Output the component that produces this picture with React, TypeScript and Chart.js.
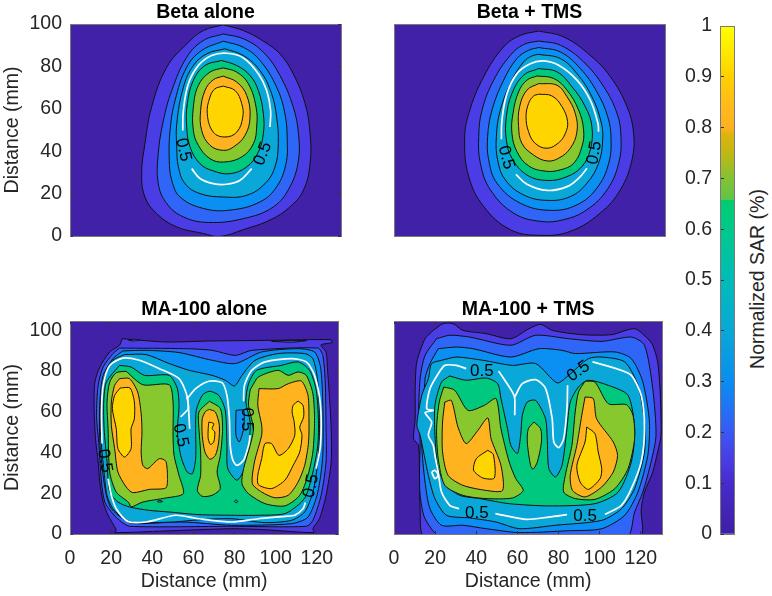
import React, { useEffect, useRef } from "react";
import { Chart, registerables } from "chart.js";

Chart.register(...registerables);

type Pt = [number, number];
type Ring = { level: number; points: Pt[] };
type Label = { x: number; y: number; angle: number };

const levelColors = ["#4021A8", "#4A3DE6", "#2F66F8", "#0A90F2", "#0AA8D8", "#00C97F", "#88C82F", "#FFB31F", "#FFD500"];

// ---- Beta alone
const betaAlone1: Pt[] = [[73.8,99.6],[83.5,96.9],[93.1,91.9],[101.1,85.9],[107.5,76.5],[113.2,62.4],[115.6,48.3],[115.6,34],[112.4,21.6],[105.9,13.7],[96.3,7.5],[83.5,3],[72.2,-0.2],[64.2,1.2],[51.4,4.3],[41.7,10.6],[36.1,18.4],[34.5,29.4],[36.1,43.5],[39.3,60.8],[46.6,79.6],[56.2,90.6],[64.2,96.9]];
const betaAlone2: Pt[] = [[73.8,95.3],[83.5,93],[93.1,86.7],[101.1,75.7],[107.5,60.8],[110,48.3],[110,35.7],[105.9,23.2],[97.9,13.7],[83.5,8.2],[66.6,6.4],[54.6,9],[46.6,15.3],[42.5,24.7],[42.5,38.8],[45,54.5],[49,68.6],[56.2,84.3],[64.2,92.2]];
const betaAlone3: Pt[] = [[73.8,91.9],[83.5,89],[91.5,82.8],[99.5,70.2],[103.5,57.7],[104.6,45.1],[104,34.1],[99.5,23.2],[91.5,16.1],[77,12.2],[64.2,13],[53,18.4],[49,26.3],[47.8,35.7],[48.2,49.8],[50.6,63.9],[56.2,79.6],[63.4,87.5]];
const betaAlone4: Pt[] = [[74.6,88.3],[83.5,85.1],[91.5,78],[97.1,67.1],[99.5,56.1],[100.3,43.5],[98.7,32.6],[93.9,24.7],[85.1,19.2],[73.8,18.4],[62.6,20],[55.4,24.7],[52.2,32.6],[51.4,42],[51.4,52.9],[54.6,70.2],[59.4,80.4],[65.8,85.9]];
const betaAlone6: Pt[] = [[73,82.8],[80.3,80.4],[86.7,75.7],[90.7,68.6],[93.1,57.7],[93.1,48.3],[90.7,39.6],[85.1,32.6],[77,29.4],[69,30.7],[62.6,34.1],[57.8,42],[56.2,51.4],[56.5,62.4],[59.4,73.4],[65,80.4]];
const betaAlone7: Pt[] = [[73.8,79.3],[80.3,77.3],[85.9,71.8],[89.6,60.8],[89.9,51.4],[88.3,43.5],[82.7,37.3],[73.8,34.9],[67.4,36.5],[61.8,42.8],[59.4,49.8],[59.4,60.8],[61.8,71],[67.4,77.3]];
const betaAlone8: Pt[] = [[73.8,75.4],[80.3,72.6],[85.1,66.3],[86.7,56.1],[84.3,47.5],[78.7,42],[73.8,40.4],[67.4,42.8],[63.4,49.8],[62.9,59.2],[65,68.6],[69,73.7]];
const betaAlone9: Pt[] = [[73.8,70.7],[79.5,68.6],[82.7,62.4],[83.2,56.1],[80.3,49],[74.6,46.7],[69,49],[66.1,57.7],[67.4,65.5],[69.8,69.4]];
const betaAloneWhite: Pt[][] = [
  [[54.3,49.8],[54.6,59.2],[57,71.8],[61.8,80.4],[68.2,85.1],[75.4,86.2],[83.5,84],[90.7,76.5],[94.7,68.6],[96.6,59.2],[96.3,51.4]],
  [[58.6,31.8],[62.6,27.1],[69,24.7],[75.4,24.4],[81.9,26.3],[87.5,31.8]],
];
const betaAloneLabels: Label[] = [{ x: 54.6, y: 40.7, angle: 78 }, { x: 92.8, y: 38.8, angle: -68 }];

// ---- Beta + TMS
const betaTms1: Pt[] = [[69.7,96.7],[81.7,93.9],[94.5,85.2],[104.2,75.1],[112.2,61],[115.4,48.4],[114.6,35.9],[109,21.8],[99.3,10.8],[84.9,2.2],[70.5,0.3],[56,3],[43.2,13.9],[36,28],[34,45.3],[36,57.8],[43.2,75.1],[52.8,89.2],[60.8,94.6]];
const betaTms2: Pt[] = [[69.7,92],[80.1,90],[91.3,82.1],[101,70.4],[107.4,57.8],[109.3,46.9],[108.2,34.3],[102.6,21.8],[92.9,12.4],[81.7,7.7],[70.5,6.9],[57.6,10.8],[46.4,21.8],[41.6,34.3],[40.8,46.9],[42.4,59.4],[48,73.5],[56,85.2],[62.4,90.3]];
const betaTms3: Pt[] = [[69.7,88.9],[80.1,86.8],[89.7,79],[97.7,68],[102.9,56.3],[104.5,46.1],[103.4,34.3],[97.7,22.6],[88.1,14.7],[75.3,12.1],[60.8,15.5],[49.6,24.9],[45.6,35.9],[45.1,46.9],[47.2,59.4],[52.8,73.5],[59.2,83.7],[64.8,87.6]];
const betaTms4: Pt[] = [[69.7,85.7],[80.1,83.7],[88.1,76.6],[95.3,65.7],[99.7,53.9],[100.5,45.3],[98.5,34.3],[92.9,24.9],[84.9,18.6],[73.7,16.8],[62.4,19.4],[53.6,26.5],[49.9,35.9],[49.3,46.9],[51.2,59.4],[56.8,73.5],[62.4,82.1],[66.4,84.9]];
const betaTms6: Pt[] = [[69.7,79],[78.5,77.4],[85.7,70.4],[92.1,61],[95.3,51.6],[94.5,40.6],[90.5,32.8],[83.3,28],[73.7,26.2],[64,28.8],[56.8,36.7],[54.1,45.3],[54.1,56.3],[56.8,67.2],[62.4,75.8]];
const betaTms7: Pt[] = [[68.9,75.5],[76.9,74.3],[83.3,68.8],[88.9,59.4],[91.3,50],[90.5,42.2],[86.5,34.3],[80.1,31.2],[72.9,30.6],[64.8,33.1],[59.2,39.8],[56.8,48.4],[57.3,57.8],[60,68],[64,73.5]];
const betaTms8: Pt[] = [[69.7,71.9],[78.5,71.1],[83.3,65.7],[87.3,57.8],[88.1,49.2],[84.9,41.4],[79.3,36.7],[73.7,35.4],[67.2,38.2],[61.6,43.7],[60,51.6],[60.5,61],[64,68.8]];
const betaTms9: Pt[] = [[69.7,66.9],[76,66.1],[80.9,61],[83.6,53.9],[82.5,48.4],[79.3,44],[73.7,41.4],[68,43.7],[64.8,49.2],[63.6,56.3],[64.8,62.5],[67.2,66]];
const betaTmsWhite: Pt[][] = [
  [[51.7,45.6],[52,54.7],[54.4,67.2],[59.2,76.6],[65.6,81.3],[72,82.6],[79.3,80.5],[88.1,73.5],[94.5,64.1],[98.2,53.1],[98.5,49.2]],
  [[58.7,29.1],[64,24.4],[73.7,21.5],[83.3,23.3],[89.7,28],[92.9,32]],
];
const betaTmsLabels: Label[] = [{ x: 54, y: 37, angle: 75 }, { x: 96.5, y: 39.3, angle: -80 }];

// ---- MA-100 alone
const maAlone1: Pt[] = [[25.4,95.9],[46.6,94.3],[69.1,94.8],[98,95.1],[127,95.4],[127.4,94],[122,92.8],[124.5,89.4],[125.3,79.6],[126.1,68.1],[127,51.7],[127,35.4],[124.5,19],[121.3,7.5],[118.1,2.6],[118.6,0.7],[94.8,2.1],[78.7,2.6],[46.6,1.5],[21.7,0.7],[22.5,2],[18.5,9.2],[16.1,15.7],[14.5,25.5],[13.7,35.4],[12.4,46.8],[11.7,63.2],[12.1,74.6],[14.5,82],[19.3,89.4],[24.1,92.7]];
const maAlone2: Pt[] = [[24.1,91.3],[56.2,91],[69.1,90.2],[80.4,87.7],[88.4,90.2],[120.5,91.3],[122.9,87.7],[124.1,74.6],[124.5,51.7],[124.5,35.4],[122.1,19],[118.1,6.7],[114.9,3.8],[78.7,3.8],[28.9,3.8],[24.1,6.7],[20.1,10.8],[16.9,15.7],[15.3,25.5],[14.1,43.5],[12.9,58.3],[13.7,73],[16.1,82],[20.9,88.6]];
const maAlone3: Pt[] = [[25.7,89.9],[37,90.2],[53,89.1],[69.1,85.3],[80.4,83.7],[93.2,89.4],[110.9,91],[118.9,89.4],[121.8,82],[122.9,64.8],[122.9,38.6],[120.5,20.6],[115.7,8.3],[107.7,5.1],[78.7,4.3],[54.6,5.9],[30.5,5.1],[25.7,7.5],[20.1,12.4],[17.7,19],[16.1,28.8],[14.5,45.2],[14.5,64.8],[16.1,77.9],[20.9,86.1]];
const maAlone4: Pt[] = [[26.5,88.1],[37,88.1],[48.2,83.7],[57.9,80.4],[69.1,77.9],[75.5,75.5],[80,72.7],[83.6,77.9],[90,85.3],[101.2,88.6],[114.1,88.6],[118.1,86.1],[120.5,74.6],[121.3,51.7],[120.5,35.4],[118.1,20.6],[114.1,10.8],[107.7,6.7],[94.8,5.6],[78.7,7.5],[65.9,7.2],[49.8,5.9],[32.1,5.6],[26.5,7.2],[20.9,12.4],[18,19],[16.4,32.1],[14.9,48.5],[14.9,64.8],[16.9,77.9],[20.9,85.3]];
const maAloneIsland: Pt[] = [[80.7,60.7],[84.4,60.7],[84.4,51.7],[82.3,45.2],[80.7,48.5]];
const maAloneLens1: Pt[] = [[28.5,95.2],[31,95.6],[34,95.2],[31,94.8]];
const maAloneLens2: Pt[] = [[98,94.6],[104,95],[115,95],[108,94.2]];
const maAlone6: Pt[] = [[24.1,82.8],[29.7,82],[36.2,77.9],[48.2,77.9],[52.2,71.4],[53,62.4],[52.2,50.9],[53.8,38.6],[57,30.4],[59.5,29.6],[61.1,37],[61.1,51.7],[61.4,60.7],[64.3,68.1],[67.8,70.1],[72.3,68.1],[75.5,60.7],[76.3,43.5],[76.7,32.1],[81.2,26.4],[84.8,32.1],[87.1,45.2],[87.6,55],[85.5,64.8],[86.8,73.8],[90.8,80.4],[102.8,82.8],[110.9,84.5],[116.5,80.4],[119.7,70.6],[120.8,55.8],[120.5,43.5],[118.1,30.4],[114.9,19],[111.7,14.9],[104.5,10],[91.6,9.2],[78.7,9.2],[62.7,9.5],[48.2,10.8],[38.6,11.6],[28.9,13.3],[23.3,15.7],[19.3,20.6],[18,35.4],[16.6,51.7],[16.4,64.8],[17.7,74.6]];
const maAlone7Left: Pt[] = [[27.3,79.9],[35.4,73.3],[48.2,73.3],[50.1,64.8],[50.1,48.5],[50.6,38.6],[53,28.8],[55.1,19.8],[46.6,17.7],[35.4,15.7],[29.7,13.3],[28.6,15.4],[22.5,20.6],[19.3,30.4],[18.5,51.7],[18,64.8],[19.3,74.6],[22.5,79.2]];
const maAlone7Mid: Pt[] = [[67.8,65.2],[73.1,61.6],[74.2,51.7],[73.1,38.6],[71.5,30.4],[73.1,22.3],[69.1,19],[64.3,18.5],[61.9,21.4],[63.5,28.8],[63.5,40.3],[62.7,51.7],[62.7,59.9]];
const maAlone7Right: Pt[] = [[88.4,72.2],[91.6,77.1],[101.2,80.4],[106.1,77.9],[110.9,79.6],[114.9,77.9],[118.1,68.9],[118.9,55.8],[118.1,40.3],[115.7,28.8],[111.7,19],[104.5,13.8],[94.8,14.9],[86.8,19.8],[83.6,24.7],[84.4,32.1],[87.6,43.5],[89.2,51.7],[86.8,63.2],[87.6,70.6]];
const maAlone8Left: Pt[] = [[24.1,76.3],[28.9,76.3],[32.9,69.7],[34.6,59.1],[35,50.1],[34.6,40.3],[35.4,33.7],[37.8,32.1],[43.4,37],[46.6,35.7],[47.4,27.2],[46.6,22.6],[38.6,21.9],[30.5,20.3],[27.3,23.1],[23.3,30.4],[21.7,41.9],[20.1,53.4],[20.1,64.8],[21.7,73]];
const maAlone8Mid: Pt[] = [[67.8,61.2],[70.7,59.9],[72.6,53.4],[72.3,45.2],[70.7,38.6],[68,36.7],[65.6,40.3],[64.3,48.5],[64.3,56.6],[65.9,60.2]];
const maAlone8Right: Pt[] = [[91.9,71.4],[101.2,71.4],[106.1,73.8],[112.5,75.1],[115.7,68.1],[116.2,56.6],[116,45.2],[114.1,33.7],[110.9,25.5],[106.1,19],[99.6,17.8],[93.2,20.6],[88.7,24.7],[89.7,35.4],[93.2,48.5],[93.2,53.4],[91.3,63.2]];
const maAlone9Left: Pt[] = [[24.4,71.7],[29.2,71.7],[31.3,64.8],[31.3,56.6],[29.7,51.7],[29.7,41.9],[26.5,37.8],[23.3,41.9],[22.5,51.7],[20.6,61.6],[21.7,68.1]];
const maAlone9Mid: Pt[] = [[67.5,55],[69.9,54.2],[69.1,51.7],[70.4,50.1],[69.9,45.2],[68.3,44],[67.2,46.8],[67.2,51.7]];
const maAlone9Right: Pt[] = [[110.9,65.3],[113.3,63.2],[113.6,57.5],[111.7,52.5],[112.8,48.5],[111.7,40.3],[108.5,33.7],[104.5,26.4],[98,22.3],[91.6,24.2],[91.3,28.8],[93.2,37],[94.8,44.4],[98,44.4],[101.6,38.6],[106.1,41.9],[109.3,48.5],[109,55],[108,59.9],[108.5,63.2]];
const maAloneDots: Pt[][] = [
  [[42.4,16],[43.4,16.5],[45,16],[43.4,15.6]],
  [[80,16],[80.7,16.8],[81.6,16],[80.7,15.3]],
];
const maAloneWhite: Pt[][] = [
  [[15.6,44.4],[15.3,59.9],[16.1,73],[19.3,82.8],[25.7,86.4],[33.7,85.3],[43.4,81.2],[53,76.3],[57,67.3],[58.2,51.7]],
  [[57,67.3],[57.5,61.6],[53.8,57.5]],
  [[57,66.5],[61.1,71.4],[67.5,75],[73.9,74.3],[76.3,68.1],[77.5,56.6],[77.9,43.5],[79.2,36.2],[81.2,33.7],[84.4,36.2],[86.8,43.5],[87.6,48.5]],
  [[84.4,65.2],[84.8,73],[88.4,80.4],[94.8,84.5],[107.7,86.1],[114.9,84.5],[118.9,77.9],[121.8,63.2],[121.8,43.5],[119.7,32.1]],
  [[18.5,27.2],[20.1,19],[22.5,12.4],[28.1,6.2],[37,5.9],[51.4,9.2],[62.7,7.5],[78.7,5.9],[91.6,7.5],[104.5,8.7],[109.3,9.2],[113.3,12.4],[114.4,15.4]],
];
const maAloneLabels: Label[] = [
  { x: 16.9, y: 35.9, angle: 80 },
  { x: 53.8, y: 48.5, angle: 78 },
  { x: 86, y: 56.3, angle: 90 },
  { x: 117.3, y: 23.6, angle: -78 },
];

// ---- MA-100 + TMS
const maTms1: Pt[] = [[19.1,100],[23.9,103.3],[28.7,103.3],[33.5,100],[44.8,98.4],[56.8,95.9],[65.6,100.8],[71.3,103],[76.9,100],[91.3,97.9],[105.8,97.9],[117,100.8],[123.4,95.9],[125.8,92.7],[128.2,84.5],[129.5,68.1],[129.8,48.5],[128.2,40.3],[125.8,30.4],[121.8,20.6],[120.2,12.4],[119.4,-1.5],[15.1,-1.5],[12.7,12.4],[12.4,28.8],[11.9,43.5],[9.5,46.8],[10.3,56.6],[10.3,71.4],[11.1,84.5],[15.1,95.9]];
const maTms2: Pt[] = [[20.7,95.9],[27.1,97.6],[36.8,96.7],[56.8,92.7],[68.9,97.6],[84.9,95.9],[101,94.6],[115.4,96.7],[121.8,92.7],[125.8,71.4],[127.4,48.5],[125,35.4],[121,20.6],[117,10.8],[113,-1.5],[23.1,-1.5],[15.1,7.5],[12.7,19],[12.4,30.4],[12.7,46.8],[11.9,56.6],[12.7,76.3],[15.1,87.7]];
const maTms3: Pt[] = [[21.5,91],[30.3,91.8],[38.4,91],[56.8,86.9],[70.5,91],[81.7,90.2],[88.1,88.6],[107.4,89.4],[115.4,86.1],[121,74.6],[124.2,55],[123.4,38.6],[118.6,20.6],[112.2,9.2],[101,2.6],[84.9,1.6],[60.8,0.7],[44.8,2.6],[33.5,4.3],[23.1,4.3],[17.5,12.4],[15.1,25.5],[13.5,43.5],[14.3,55],[15.1,76.3],[17.5,83.7]];
const maTms4: Pt[] = [[23.1,85.3],[30.3,86.9],[43.2,85.3],[57.6,82.8],[68.9,83.7],[79.3,74.2],[84.9,77.9],[94.5,86.1],[101,86.9],[112.2,84.5],[118.6,73],[121.8,55],[121.8,40.3],[117,22.3],[110.6,12.4],[101,6.7],[78.5,4.3],[60.8,2.6],[49.6,5.9],[36.8,7.9],[25.5,9.2],[19.9,17.4],[16.7,28.8],[12.7,48.5],[11.1,53.4],[13.5,68.1],[16.7,76.3],[18.3,83.7]];
const maTms6: Pt[] = [[27.1,77.6],[35.1,75.5],[44.8,76.6],[50.4,73.8],[52,66.5],[55.2,51.7],[56.8,43.5],[60,39.5],[61.6,48.5],[62.4,58.3],[64.8,64.8],[68.9,65.6],[73.7,56.6],[74.5,46.8],[75.3,32.1],[78.5,28],[81.7,33.7],[84.1,51.7],[85.7,64.8],[89.7,72.2],[94.5,75.5],[104.2,73],[113.8,68.1],[117,51.7],[115.4,35.4],[109,20.6],[97.7,14.9],[75.3,13.8],[56,14.9],[41.6,17.4],[31.9,19],[25.5,23.9],[21.5,32.1],[19.9,48.5],[19.9,63.2],[23.1,74.6]];
const maTms7Left: Pt[] = [[24.2,72.2],[29.5,70.6],[36,60.7],[44,63.2],[49.6,66.5],[52,51.7],[56,35.4],[59.2,27.2],[62.8,21.4],[57.6,17.7],[44.8,17.4],[33.5,19],[24.7,23.9],[21.5,37],[20.7,51.7],[22,64.8]];
const maTms7Mid: Pt[] = [[68.1,55],[71.3,51.7],[71.7,45.2],[69.7,35.4],[67.6,31.8],[66.4,33.7],[64.8,45.2],[65.3,51.7]];
const maTms7Right: Pt[] = [[92.9,75],[97.7,74.6],[104.2,64],[113,63.5],[116.2,58.3],[117,46.8],[113.8,32.1],[107.4,22.3],[97.7,17],[88.1,17.4],[82.5,20.6],[83.3,28.8],[86.5,43.5],[88.1,59.9],[89.7,69.7]];
const maTms8Left: Pt[] = [[24.7,64.8],[27.9,65.6],[31.1,52.5],[35.1,44.4],[40.8,50.9],[45.6,57],[47.2,46.8],[52,33.7],[52.8,21.4],[44.8,21.4],[33.5,23.9],[26.3,28.8],[23.6,40.3],[23.6,55]];
const maTms8Right: Pt[] = [[92.9,67.3],[96.9,66.5],[98.5,56.6],[106.6,45.2],[108.7,38.6],[106.6,30.4],[101,23.1],[92.9,18.2],[86.8,21.4],[85.7,28.8],[88.9,43.5],[91.3,58.3]];
const maTms9Left: Pt[] = [[45.6,41.1],[48.3,39],[48.8,27.5],[43.2,27.5],[38.7,31.3],[40,37]];
const maTms9Right: Pt[] = [[93.7,52.5],[97.7,49.3],[99.3,40.3],[101,32.1],[100.2,27.2],[94.5,21.9],[90.5,25.5],[88.9,33.7],[92.9,45.2]];
const maTmsWhite: Pt[][] = [
  [[35.1,81.2],[30.3,82.8],[24.7,82.8],[21.5,78.7],[17.5,71.4],[15.9,61.6],[19.1,60.7],[15.1,59.6],[18.3,55],[16.7,48.5],[19.1,43.5],[19.9,38.6],[21.5,30.4],[23.1,20.6],[27.1,14.1],[31.6,12.4]],
  [[50.9,80],[57.6,69.7],[58.7,66.5],[58.7,58.3]],
  [[58.7,67.3],[62.4,73.8],[68.9,75.8],[73.7,71.4],[76.9,56.6],[77.7,45.2],[80.1,42.4],[82.5,46.8],[84.1,61.6],[84.4,73]],
  [[96.5,84.5],[109,80.9],[115.4,77.9],[120.2,68.1],[121.8,51.7],[120.2,35.4],[115.4,22.3],[110.6,14.1],[102.6,9.7]],
  [[49.3,10],[64,7.2],[75.3,8.3],[84.1,9.5]],
  [[18.3,30.4],[19.9,31.3],[21.5,28.8],[19.9,27.2],[18.3,30.4]],
];
const maTmsLabels: Label[] = [
  { x: 42.7, y: 79.9, angle: 0 },
  { x: 89.7, y: 79.9, angle: -35 },
  { x: 40.3, y: 10.3, angle: 0 },
  { x: 92.9, y: 8.8, angle: 0 },
];

const betaAloneRings: Ring[] = [
  { level: 1, points: betaAlone1 }, { level: 2, points: betaAlone2 }, { level: 3, points: betaAlone3 }, { level: 4, points: betaAlone4 },
  { level: 5, points: betaAlone6 }, { level: 6, points: betaAlone7 }, { level: 7, points: betaAlone8 }, { level: 8, points: betaAlone9 },
];
const betaTmsRings: Ring[] = [
  { level: 1, points: betaTms1 }, { level: 2, points: betaTms2 }, { level: 3, points: betaTms3 }, { level: 4, points: betaTms4 },
  { level: 5, points: betaTms6 }, { level: 6, points: betaTms7 }, { level: 7, points: betaTms8 }, { level: 8, points: betaTms9 },
];
const maAloneRings: Ring[] = [
  { level: 1, points: maAlone1 }, { level: 2, points: maAloneLens1 }, { level: 2, points: maAloneLens2 }, { level: 2, points: maAlone2 },
  { level: 3, points: maAlone3 }, { level: 4, points: maAlone4 }, { level: 3, points: maAloneIsland }, { level: 5, points: maAlone6 },
  { level: 4, points: maAloneDots[0] }, { level: 4, points: maAloneDots[1] },
  { level: 6, points: maAlone7Left }, { level: 6, points: maAlone7Mid }, { level: 6, points: maAlone7Right },
  { level: 7, points: maAlone8Left }, { level: 7, points: maAlone8Mid }, { level: 7, points: maAlone8Right },
  { level: 8, points: maAlone9Left }, { level: 8, points: maAlone9Mid }, { level: 8, points: maAlone9Right },
];
const maTmsRings: Ring[] = [
  { level: 1, points: maTms1 }, { level: 2, points: maTms2 }, { level: 3, points: maTms3 }, { level: 4, points: maTms4 },
  { level: 5, points: maTms6 },
  { level: 6, points: maTms7Left }, { level: 6, points: maTms7Mid }, { level: 6, points: maTms7Right },
  { level: 7, points: maTms8Left }, { level: 7, points: maTms8Right },
  { level: 8, points: maTms9Left }, { level: 8, points: maTms9Right },
];

// ---- colour bar
const barStops = [0, 0.1, 0.15, 0.2, 0.25, 0.3, 0.4, 0.5, 0.6, 0.657, 0.657, 0.7, 0.75, 0.785, 0.8, 0.85, 0.9, 0.95, 1];
const barColors = ["#3F1FA5", "#472BCB", "#4A3DE6", "#3A58F4", "#1F74F6", "#0A8DF0", "#09A8D6", "#00BCB8", "#00C98A", "#00CC70", "#5FC44A", "#84C234", "#C0B812", "#DCB40E", "#FFB020", "#FFBC18", "#FFD000", "#FFE800", "#FFFF00"];
const barSpan = [1];
const barTicks = [0, 0.1, 0.2, 0.3, 0.4, 0.5, 0.6, 0.7, 0.8, 0.9, 1];

const xMax = 130.5;
const font = { family: "'Liberation Sans', Arial, sans-serif", size: 19.5 };
const inkColor = "#262626";
const frameColor = "#7a7a7a";

function sideAxis(extra: any) {
  return {
    grid: { drawOnChartArea: false, drawTicks: false, tickLength: -3, tickColor: "#333", z: 1 },
    border: { color: frameColor, width: 1, z: 1 },
    ticks: { display: false },
    ...extra,
  };
}

type PanelProps = {
  box: { left: number; top: number; width: number; height: number };
  insets: { left: number; right: number; top: number; bottom: number };
  title: string;
  titlePad: number;
  rings: Ring[];
  whites: Pt[][];
  labels: Label[];
  yMax: number;
  showY: boolean;
  showX: boolean;
  tension: number;
};

function Panel(p: PanelProps) {
  const ref = useRef<HTMLCanvasElement>(null);
  useEffect(() => {
    const n = p.rings.length;
    const datasets: any[] = p.rings.map((r, i) => ({
      data: [...r.points, r.points[0]],
      showLine: true,
      fill: "shape",
      backgroundColor: levelColors[r.level],
      borderColor: "#101010",
      borderWidth: 1,
      pointRadius: 0,
      tension: p.tension,
      capBezierPoints: false,
      order: n - i + 5,
    }));
    p.whites.forEach((w) =>
      datasets.push({
        data: w,
        showLine: true,
        fill: false,
        borderColor: "#ffffff",
        borderWidth: 1.7,
        pointRadius: 0,
        tension: p.tension,
        capBezierPoints: false,
        order: 1,
      })
    );
    const stepTicks = (show: boolean) => ({
      display: show,
      stepSize: 20,
      includeBounds: false,
      color: inkColor,
      font,
      padding: 11,
      maxRotation: 0,
      autoSkip: false,
    });
    const chart = new Chart(ref.current!, {
      type: "scatter",
      data: { datasets },
      plugins: [
        {
          id: "plotBackground",
          beforeDatasetsDraw(c: any) {
            const a = c.chartArea;
            c.ctx.save();
            c.ctx.fillStyle = levelColors[0];
            c.ctx.fillRect(a.left, a.top, a.right - a.left, a.bottom - a.top);
            c.ctx.restore();
          },
        },
        {
          id: "contourLabels",
          afterDatasetsDraw(c: any) {
            const ctx = c.ctx;
            p.labels.forEach((l) => {
              ctx.save();
              ctx.translate(c.scales.x.getPixelForValue(l.x), c.scales.y.getPixelForValue(l.y));
              ctx.rotate((l.angle * Math.PI) / 180);
              ctx.fillStyle = "#000";
              ctx.font = `17px ${font.family}`;
              ctx.textAlign = "center";
              ctx.textBaseline = "middle";
              ctx.fillText("0.5", 0, 0);
              ctx.restore();
            });
          },
        },
      ],
      options: {
        animation: false,
        responsive: false,
        layout: { padding: 0 },
        plugins: { legend: { display: false }, tooltip: { enabled: false } },
        scales: {
          x: sideAxis({
            type: "linear",
            position: "bottom",
            min: 0,
            max: xMax,
            grid: { drawOnChartArea: false, drawTicks: p.showX, tickLength: -3, tickColor: "#333", z: 1 },
            ticks: { ...stepTicks(p.showX), padding: 16 },
            title: { display: p.showX, text: "Distance (mm)", color: inkColor, font, padding: { top: 0, bottom: 2.6 } },
            afterFit(s: any) { s.height = p.insets.bottom; },
          }),
          y: sideAxis({
            type: "linear",
            position: "left",
            min: 0,
            max: p.yMax,
            grid: { drawOnChartArea: false, drawTicks: p.showY, tickLength: -3, tickColor: "#333", z: 1 },
            ticks: stepTicks(p.showY),
            title: { display: p.showY, text: "Distance (mm)", color: inkColor, font, padding: { top: 0.8, bottom: 0 } },
            afterFit(s: any) { s.width = p.insets.left; },
          }),
          x2: sideAxis({
            type: "linear",
            position: "top",
            min: 0,
            max: xMax,
            grid: { drawOnChartArea: false, drawTicks: p.showX, tickLength: -3, tickColor: "#333", z: 1 },
            ticks: { display: false, stepSize: 20, includeBounds: false },
            title: { display: true, text: p.title, color: "#000", font: { ...font, weight: "bold" }, padding: { top: p.titlePad, bottom: 0 } },
            afterFit(s: any) { s.height = p.insets.top; },
          }),
          y2: sideAxis({
            type: "linear",
            position: "right",
            min: 0,
            max: p.yMax,
            grid: { drawOnChartArea: false, drawTicks: p.showY, tickLength: -3, tickColor: "#333", z: 1 },
            ticks: { display: false, stepSize: 20, includeBounds: false },
            afterFit(s: any) { s.width = p.insets.right; },
          }),
        },
      } as any,
    } as any);
    return () => chart.destroy();
  }, []);
  return (
    <canvas
      ref={ref}
      width={p.box.width}
      height={p.box.height}
      style={{ position: "absolute", left: p.box.left, top: p.box.top, width: p.box.width, height: p.box.height }}
    />
  );
}

function ColorBar() {
  const ref = useRef<HTMLCanvasElement>(null);
  useEffect(() => {
    const chart = new Chart(ref.current!, {
      type: "bar",
      data: {
        labels: ["SAR"],
        datasets: [
          {
            data: barSpan,
            borderWidth: 0,
            barPercentage: 1,
            categoryPercentage: 1,
            backgroundColor(c: any) {
              const a = c.chart.chartArea;
              if (!a) return barColors[0];
              const g = c.chart.ctx.createLinearGradient(0, a.bottom, 0, a.top);
              barStops.forEach((s, i) => g.addColorStop(s, barColors[i]));
              return g;
            },
          },
        ],
      },
      options: {
        animation: false,
        responsive: false,
        layout: { padding: 0 },
        plugins: { legend: { display: false }, tooltip: { enabled: false } },
        scales: {
          x: sideAxis({ type: "category", position: "bottom", afterFit(s: any) { s.height = 26; } }),
          y: sideAxis({
            type: "linear",
            position: "left",
            min: 0,
            max: 1,
            grid: { drawOnChartArea: false, drawTicks: true, tickLength: -4, tickColor: "#333", z: 1 },
            afterBuildTicks(s: any) { s.ticks = barTicks.map((value) => ({ value })); },
            ticks: { display: true, color: inkColor, font, padding: 12, callback: (v: number) => String(Number(v.toFixed(1))) },
            afterFit(s: any) { s.width = 60; },
          }),
          x2: sideAxis({ type: "linear", position: "top", afterFit(s: any) { s.height = 26; } }),
          y2: sideAxis({ type: "linear", position: "right", min: 0, max: 1, afterFit(s: any) { s.width = 4; } }),
        },
      } as any,
    } as any);
    return () => chart.destroy();
  }, []);
  return <canvas ref={ref} width={78} height={560} style={{ position: "absolute", left: 660, top: 0, width: 78, height: 560 }} />;
}

const insetsTop = { left: 70, right: 9, top: 24, bottom: 34 };
const insetsBottom = { left: 70, right: 9, top: 24, bottom: 62 };
const insetsTopB = { left: 34, right: 9, top: 24, bottom: 34 };
const insetsBottomB = { left: 34, right: 9, top: 24, bottom: 62 };

export default function App() {
  return (
    <div style={{ position: "fixed", left: 0, top: 0, width: 772, height: 596, background: "#fff", overflow: "hidden" }}>
      <Panel box={{ left: 0, top: 0, width: 350, height: 270 }} insets={insetsTop} title="Beta alone" titlePad={0.6} rings={betaAloneRings} whites={betaAloneWhite} labels={betaAloneLabels} yMax={100} showY showX={false} tension={0.4} />
      <Panel box={{ left: 360, top: 0, width: 314, height: 270 }} insets={insetsTopB} title="Beta + TMS" titlePad={0.6} rings={betaTmsRings} whites={betaTmsWhite} labels={betaTmsLabels} yMax={100} showY={false} showX={false} tension={0.4} />
      <Panel box={{ left: 0, top: 297, width: 350, height: 299 }} insets={insetsBottom} title="MA-100 alone" titlePad={1.3} rings={maAloneRings} whites={maAloneWhite} labels={maAloneLabels} yMax={104.6} showY showX tension={0.25} />
      <Panel box={{ left: 360, top: 297, width: 314, height: 299 }} insets={insetsBottomB} title="MA-100 + TMS" titlePad={1.3} rings={maTmsRings} whites={maTmsWhite} labels={maTmsLabels} yMax={104.6} showY={false} showX tension={0.25} />
      <ColorBar />
      <div
        style={{
          position: "absolute",
          left: 757,
          top: 279,
          transform: "translate(-50%, -50%) rotate(-90deg)",
          font: "19.5px 'Liberation Sans', Arial, sans-serif",
          color: inkColor,
          whiteSpace: "nowrap",
        }}
      >
        Normalized SAR (%)
      </div>
    </div>
  );
}
